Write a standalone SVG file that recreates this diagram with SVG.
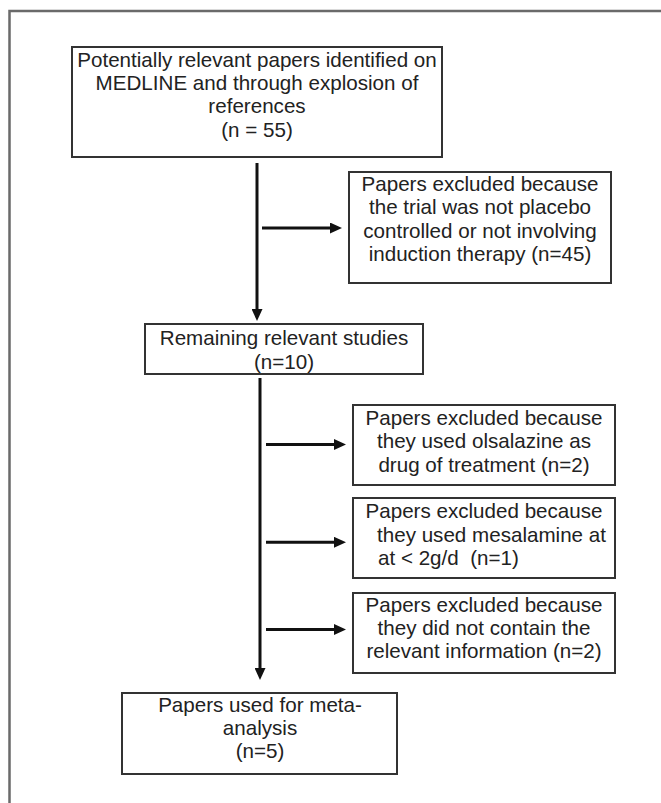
<svg xmlns="http://www.w3.org/2000/svg" width="661" height="803" viewBox="0 0 661 803">
<style>
.box{fill:#fff;stroke:#333;stroke-width:2}
.t{font-family:"Liberation Sans",Arial,sans-serif;font-size:20.6px;fill:#222;text-anchor:middle}
.ts{text-anchor:start}
.c{stroke:#111;stroke-width:3;fill:none}
.frame{stroke:#6a6a6a;stroke-width:2.5;fill:none}
</style>
<defs>
<marker id="ah" markerUnits="userSpaceOnUse" markerWidth="12" markerHeight="11" refX="4" refY="5.5" orient="auto">
<path d="M0,0 L12,5.5 L0,11 z" fill="#111"/>
</marker>
</defs>
<rect width="661" height="803" fill="#fff"/>
<path class="frame" d="M9.5,803 L9.5,11 L661,11"/>

<g id="n1">
<rect class="box" x="72" y="47" width="370" height="110"/>
<text class="t"><tspan x="257" y="67.3">Potentially relevant papers identified on</tspan><tspan x="257" y="90">MEDLINE and through explosion of</tspan><tspan x="257" y="113.3">references</tspan><tspan x="257" y="136.7">(n = 55)</tspan></text>
</g>
<g id="n2">
<rect class="box" x="349" y="172" width="262" height="111"/>
<text class="t"><tspan x="480" y="190.5">Papers excluded because</tspan><tspan x="480" y="214">the trial was not placebo</tspan><tspan x="480" y="237.5">controlled or not involving</tspan><tspan x="480" y="261">induction therapy (n=45)</tspan></text>
</g>
<g id="n3">
<rect class="box" x="145" y="324" width="278" height="50"/>
<text class="t"><tspan x="284" y="345">Remaining relevant studies</tspan><tspan x="284" y="368.5">(n=10)</tspan></text>
</g>
<g id="n4">
<rect class="box" x="353" y="405" width="262" height="80"/>
<text class="t"><tspan x="484" y="425">Papers excluded because</tspan><tspan x="484" y="448.3">they used olsalazine as</tspan><tspan x="484" y="471.7">drug of treatment (n=2)</tspan></text>
</g>
<g id="n5">
<rect class="box" x="353" y="498" width="262" height="80"/>
<text class="t"><tspan x="484" y="518">Papers excluded because</tspan></text>
<text class="t ts"><tspan x="377" y="541.5">they used mesalamine at</tspan><tspan x="378" y="565" xml:space="preserve">at &lt; 2g/d  (n=1)</tspan></text>
</g>
<g id="n6">
<rect class="box" x="353" y="593" width="262" height="80"/>
<text class="t"><tspan x="484" y="611.7">Papers excluded because</tspan><tspan x="484" y="635">they did not contain the</tspan><tspan x="484" y="658.3">relevant information (n=2)</tspan></text>
</g>
<g id="n7">
<rect class="box" x="122" y="693" width="275" height="81"/>
<text class="t"><tspan x="260" y="711.7">Papers used for meta-</tspan><tspan x="260" y="734.5">analysis</tspan><tspan x="260" y="757.5">(n=5)</tspan></text>
</g>

<g id="connectors">
<line class="c" x1="257" y1="163" x2="257" y2="313" marker-end="url(#ah)"/>
<line class="c" x1="262" y1="228" x2="334" y2="228" marker-end="url(#ah)"/>
<line class="c" x1="260" y1="378" x2="260" y2="672" marker-end="url(#ah)"/>
<line class="c" x1="266" y1="444.5" x2="338" y2="444.5" marker-end="url(#ah)"/>
<line class="c" x1="266" y1="542.3" x2="338" y2="542.3" marker-end="url(#ah)"/>
<line class="c" x1="266" y1="629.5" x2="338" y2="629.5" marker-end="url(#ah)"/>
</g>
</svg>
